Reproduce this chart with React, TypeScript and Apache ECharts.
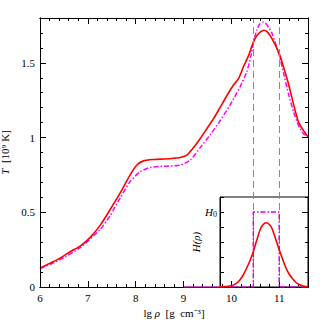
import React, { useEffect, useRef } from "react";
import * as echarts from "echarts";

// Main panel: temperature T [10^9 K] vs lg rho
const redRho = [6.0, 6.2, 6.4, 6.63, 6.84, 7.05, 7.26, 7.46, 7.67, 7.88, 8.02, 8.16, 8.37, 8.6, 8.8, 8.93, 9.07, 9.21, 9.35, 9.49, 9.63, 9.77, 9.91, 10.04, 10.15, 10.25, 10.36, 10.46, 10.55, 10.67, 10.75, 10.85, 11.0, 11.1, 11.2, 11.3, 11.4, 11.5, 11.6];
const redT = [0.125, 0.158, 0.19, 0.236, 0.274, 0.332, 0.414, 0.515, 0.626, 0.749, 0.815, 0.844, 0.853, 0.857, 0.862, 0.867, 0.882, 0.934, 0.994, 1.061, 1.128, 1.205, 1.283, 1.35, 1.395, 1.473, 1.55, 1.64, 1.69, 1.718, 1.707, 1.66, 1.56, 1.46, 1.35, 1.22, 1.105, 1.05, 1.005];

const magRho = [6.0, 6.4, 6.84, 7.26, 7.46, 7.67, 7.88, 8.09, 8.3, 8.51, 8.72, 8.93, 9.14, 9.35, 9.56, 9.77, 9.97, 10.18, 10.32, 10.41, 10.47, 10.53, 10.6, 10.67, 10.74, 10.85, 11.0, 11.1, 11.2, 11.3, 11.4, 11.5, 11.6];
const magT = [0.122, 0.18, 0.263, 0.386, 0.475, 0.593, 0.704, 0.771, 0.8, 0.807, 0.81, 0.815, 0.849, 0.934, 1.02, 1.116, 1.217, 1.339, 1.44, 1.55, 1.65, 1.72, 1.763, 1.773, 1.756, 1.696, 1.55, 1.417, 1.283, 1.17, 1.083, 1.027, 1.005];

// Window edges (dashed verticals) in lg rho
const windowEdges = [10.46, 11.0];

// Inset: heating profile H(rho)
const insetRhoMin = 9.766;
const gaussRho = [9.766, 9.97, 10.1, 10.18, 10.25, 10.32, 10.39, 10.46, 10.53, 10.6, 10.66, 10.73, 10.8, 10.85, 10.92, 10.99, 11.06, 11.13, 11.2, 11.27, 11.35, 11.44, 11.6];
const gaussH = [0, 0.013, 0.045, 0.093, 0.16, 0.25, 0.35, 0.47, 0.62, 0.76, 0.83, 0.857, 0.83, 0.78, 0.65, 0.516, 0.39, 0.27, 0.18, 0.116, 0.06, 0.027, 0];
const boxRho = [insetRhoMin, windowEdges[0], windowEdges[0], windowEdges[1], windowEdges[1], 11.6];
const boxH = [0, 0, 1, 1, 0, 0];

const baseRho = [9.0, 9.766];
const baseH = [0, 0];

const zip = (a: number[], b: number[]) => a.map((v, i) => [v, b[i]]);

const FONT = "Liberation Serif";
const BLACK = "#000";

export default function App() {
  const ref = useRef<HTMLDivElement>(null);
  useEffect(() => {
    document.body.style.margin = "0";
    const chart = echarts.init(ref.current!, null, { renderer: "svg" });
    const tickAxisX = (pos: string, interval: number, len: number, labels: boolean, extra: any = {}) => ({
      type: "value",
      gridIndex: 0,
      position: pos,
      min: 6,
      max: 11.6,
      interval,
      z: 6,
      axisLine: { show: true, onZero: false, lineStyle: { color: BLACK, width: 1 } },
      axisTick: { show: true, inside: true, length: len, lineStyle: { color: BLACK, width: 1 } },
      axisLabel: labels
        ? {
            show: true,
            margin: 5,
            fontFamily: FONT,
            fontSize: 11,
            color: BLACK,
            showMaxLabel: false,
            formatter: (v: number) => (Math.abs(v - Math.round(v)) < 1e-6 ? String(Math.round(v)) : ""),
          }
        : { show: false },
      splitLine: { show: false },
      ...extra,
    });
    const tickAxisY = (pos: string, interval: number, len: number, labels: boolean, extra: any = {}) => ({
      type: "value",
      gridIndex: 0,
      position: pos,
      min: 0,
      max: 1.8,
      interval,
      z: 6,
      axisLine: { show: true, onZero: false, lineStyle: { color: BLACK, width: 1 } },
      axisTick: { show: true, inside: true, length: len, lineStyle: { color: BLACK, width: 1 } },
      axisLabel: labels
        ? {
            show: true,
            margin: 5,
            fontFamily: FONT,
            fontSize: 11,
            color: BLACK,
            showMaxLabel: false,
            formatter: (v: number) => (v > 1.75 ? "" : String(Math.round(v * 10) / 10)),
          }
        : { show: false },
      splitLine: { show: false },
      ...extra,
    });

    chart.setOption({
      animation: false,
      backgroundColor: "#fff",
      grid: [
        { left: 40, right: 19, top: 18, bottom: 40, show: false, outerBoundsMode: "none", containLabel: false },
        {
          left: 220,
          right: 19,
          top: 197,
          bottom: 40,
          show: true,
          z: 5,
          outerBoundsMode: "none",
          containLabel: false,
          backgroundColor: "#fff",
          borderColor: BLACK,
          borderWidth: 1,
        },
      ],
      xAxis: [
        tickAxisX("bottom", 1, 6, true, {
          name: "lg {i|ρ}  [g  cm⁻³]",
          nameLocation: "middle",
          nameGap: 18,
          nameTextStyle: {
            fontFamily: FONT,
            fontSize: 11,
            color: BLACK,
            rich: { i: { fontStyle: "italic", fontFamily: FONT, fontSize: 11, color: BLACK } },
          },
        }),
        tickAxisX("bottom", 0.2, 3, false),
        tickAxisX("top", 1, 6, false),
        tickAxisX("top", 0.2, 3, false),
        {
          type: "value",
          gridIndex: 1,
          min: insetRhoMin,
          max: 11.6,
          show: false,
        },
      ],
      yAxis: [
        tickAxisY("left", 0.5, 6, true, {
          name: "{i|T}  [10⁹ K]",
          nameLocation: "middle",
          nameGap: 27,
          nameRotate: 90,
          nameTextStyle: {
            fontFamily: FONT,
            fontSize: 11,
            color: BLACK,
            rich: { i: { fontStyle: "italic", fontFamily: FONT, fontSize: 11, color: BLACK } },
          },
        }),
        tickAxisY("left", 0.1, 3, false),
        tickAxisY("right", 0.5, 6, false),
        tickAxisY("right", 0.1, 3, false),
        {
          type: "value",
          gridIndex: 1,
          position: "left",
          min: 0,
          max: 1.2,
          interval: 0.2,
          z: 7,
          axisLine: { show: true, onZero: false, lineStyle: { color: BLACK, width: 1 } },
          axisTick: { show: true, inside: true, length: 4, lineStyle: { color: BLACK, width: 1 } },
          axisLabel: {
            show: true,
            margin: 3,
            fontFamily: FONT,
            fontSize: 11,
            color: BLACK,
            formatter: (v: number) => (Math.abs(v - 1) < 1e-6 ? "{i|H}{s|0}" : ""),
            rich: {
              i: { fontStyle: "italic", fontFamily: FONT, fontSize: 11, color: BLACK },
              s: { fontFamily: FONT, fontSize: 8, color: BLACK, padding: [5, 0, 0, 0] },
            },
          },
          splitLine: { show: false },
          name: "H(ρ)",
          nameLocation: "middle",
          nameGap: 11,
          nameRotate: 90,
          nameTextStyle: { fontFamily: FONT, fontSize: 11, fontStyle: "italic", color: BLACK },
        },
      ],
      series: [
        {
          type: "line",
          xAxisIndex: 0,
          yAxisIndex: 0,
          data: zip(magRho, magT),
          smooth: 0.2,
          showSymbol: false,
          z: 2,
          lineStyle: { color: "#ff00ff", width: 1.5, type: [5, 2, 1.5, 2] },
        },
        {
          type: "line",
          xAxisIndex: 0,
          yAxisIndex: 0,
          data: zip(redRho, redT),
          smooth: 0.2,
          showSymbol: false,
          z: 3,
          lineStyle: { color: "#ff0000", width: 1.6 },
          markLine: {
            silent: true,
            symbol: "none",
            label: { show: false },
            lineStyle: { color: "#8a8a8a", width: 1, type: [7, 4] },
            data: windowEdges.map((e) => ({ xAxis: e })),
          },
        },
        {
          type: "line",
          xAxisIndex: 0,
          yAxisIndex: 0,
          data: zip(baseRho, baseH),
          showSymbol: false,
          z: 8,
          lineStyle: { color: "#b020a0", width: 1.5 },
        },
        {
          type: "line",
          xAxisIndex: 4,
          yAxisIndex: 4,
          data: zip(boxRho, boxH),
          showSymbol: false,
          z: 8,
          lineStyle: { color: "#e000e0", width: 1.5, type: [5, 2, 1.5, 2] },
        },
        {
          type: "line",
          xAxisIndex: 4,
          yAxisIndex: 4,
          data: zip(gaussRho, gaussH),
          smooth: 0.3,
          showSymbol: false,
          z: 9,
          lineStyle: { color: "#ff0000", width: 1.6 },
        },
      ],
    });
    return () => chart.dispose();
  }, []);
  return <div ref={ref} style={{ width: 327, height: 327 }} />;
}
